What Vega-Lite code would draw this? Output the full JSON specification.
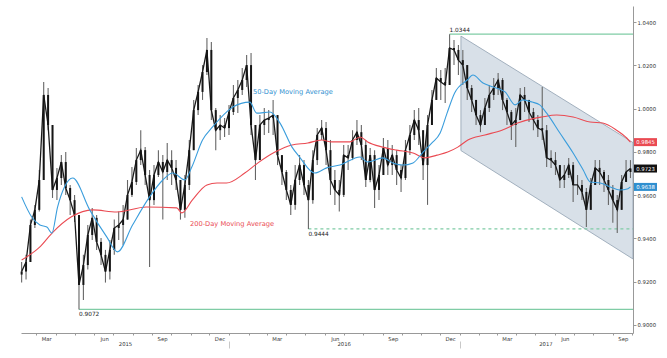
{
  "$schema": "https://vega.github.io/schema/vega-lite/v6.json",
  "width": 612,
  "height": 327,
  "autosize": {"type": "none"},
  "padding": {"left": 21, "top": 6, "right": 34, "bottom": 25},
  "background": "white",
  "config": {
    "view": {"stroke": null},
    "axis": {"labelFont": "DejaVu Sans", "labelFontSize": 5.3, "labelColor": "#333", "domainColor": "#999", "tickColor": "#999", "grid": false},
    "text": {"font": "DejaVu Sans"}
  },
  "datasets": {
    "px": [
      {"d":"2015-02-06","o":0.9233,"h":0.9291,"l":0.9196,"c":0.9247},
      {"d":"2015-02-13","o":0.9247,"h":0.9324,"l":0.9210,"c":0.9291},
      {"d":"2015-02-20","o":0.9291,"h":0.9487,"l":0.9291,"c":0.9462},
      {"d":"2015-02-27","o":0.9462,"h":0.9555,"l":0.9448,"c":0.9532},
      {"d":"2015-03-06","o":0.9532,"h":0.9716,"l":0.9524,"c":0.9670},
      {"d":"2015-03-13","o":0.9670,"h":1.0123,"l":0.9670,"c":1.0063},
      {"d":"2015-03-20","o":1.0063,"h":1.0095,"l":0.9900,"c":0.9924},
      {"d":"2015-03-27","o":0.9924,"h":0.9924,"l":0.9587,"c":0.9624},
      {"d":"2015-04-03","o":0.9624,"h":0.9726,"l":0.9577,"c":0.9679},
      {"d":"2015-04-10","o":0.9679,"h":0.9785,"l":0.9647,"c":0.9753},
      {"d":"2015-04-17","o":0.9753,"h":0.9799,"l":0.9601,"c":0.9633},
      {"d":"2015-04-24","o":0.9633,"h":0.9647,"l":0.9508,"c":0.9577},
      {"d":"2015-05-01","o":0.9577,"h":0.9601,"l":0.9476,"c":0.9508},
      {"d":"2015-05-08","o":0.9508,"h":0.9508,"l":0.9072,"c":0.9185},
      {"d":"2015-05-15","o":0.9185,"h":0.9324,"l":0.9116,"c":0.9277},
      {"d":"2015-05-22","o":0.9277,"h":0.9462,"l":0.9256,"c":0.9416},
      {"d":"2015-05-29","o":0.9416,"h":0.9541,"l":0.9393,"c":0.9495},
      {"d":"2015-06-05","o":0.9495,"h":0.9508,"l":0.9347,"c":0.9384},
      {"d":"2015-06-12","o":0.9384,"h":0.9402,"l":0.9277,"c":0.9324},
      {"d":"2015-06-19","o":0.9324,"h":0.9347,"l":0.9196,"c":0.9247},
      {"d":"2015-06-26","o":0.9247,"h":0.9393,"l":0.9210,"c":0.9347},
      {"d":"2015-07-03","o":0.9347,"h":0.9487,"l":0.9324,"c":0.9448},
      {"d":"2015-07-10","o":0.9448,"h":0.9524,"l":0.9393,"c":0.9462},
      {"d":"2015-07-17","o":0.9462,"h":0.9555,"l":0.9370,"c":0.9487},
      {"d":"2015-07-24","o":0.9487,"h":0.9670,"l":0.9487,"c":0.9601},
      {"d":"2015-07-31","o":0.9601,"h":0.9730,"l":0.9592,"c":0.9661},
      {"d":"2015-08-07","o":0.9661,"h":0.9818,"l":0.9647,"c":0.9762},
      {"d":"2015-08-14","o":0.9762,"h":0.9900,"l":0.9739,"c":0.9808},
      {"d":"2015-08-21","o":0.9808,"h":0.9822,"l":0.9647,"c":0.9693},
      {"d":"2015-08-28","o":0.9693,"h":0.9716,"l":0.9268,"c":0.9577},
      {"d":"2015-09-04","o":0.9577,"h":0.9739,"l":0.9555,"c":0.9693},
      {"d":"2015-09-11","o":0.9693,"h":0.9808,"l":0.9684,"c":0.9753},
      {"d":"2015-09-18","o":0.9753,"h":0.9785,"l":0.9487,"c":0.9707},
      {"d":"2015-09-25","o":0.9707,"h":0.9841,"l":0.9670,"c":0.9762},
      {"d":"2015-10-02","o":0.9762,"h":0.9808,"l":0.9647,"c":0.9726},
      {"d":"2015-10-09","o":0.9726,"h":0.9762,"l":0.9624,"c":0.9670},
      {"d":"2015-10-16","o":0.9670,"h":0.9670,"l":0.9487,"c":0.9532},
      {"d":"2015-10-23","o":0.9532,"h":0.9693,"l":0.9495,"c":0.9647},
      {"d":"2015-10-30","o":0.9647,"h":0.9855,"l":0.9624,"c":0.9808},
      {"d":"2015-11-06","o":0.9808,"h":1.0040,"l":0.9808,"c":0.9993},
      {"d":"2015-11-13","o":0.9993,"h":1.0109,"l":0.9970,"c":1.0077},
      {"d":"2015-11-20","o":1.0077,"h":1.0201,"l":1.0040,"c":1.0169},
      {"d":"2015-11-27","o":1.0169,"h":1.0326,"l":1.0155,"c":1.0271},
      {"d":"2015-12-04","o":1.0271,"h":1.0308,"l":0.9947,"c":0.9993},
      {"d":"2015-12-11","o":0.9993,"h":1.0003,"l":0.9808,"c":0.9900},
      {"d":"2015-12-18","o":0.9900,"h":0.9970,"l":0.9855,"c":0.9924},
      {"d":"2015-12-25","o":0.9924,"h":0.9956,"l":0.9869,"c":0.9910},
      {"d":"2016-01-01","o":0.9910,"h":1.0017,"l":0.9878,"c":0.9984},
      {"d":"2016-01-08","o":0.9984,"h":1.0109,"l":0.9970,"c":1.0049},
      {"d":"2016-01-15","o":1.0049,"h":1.0132,"l":0.9979,"c":1.0086},
      {"d":"2016-01-22","o":1.0086,"h":1.0187,"l":1.0063,"c":1.0132},
      {"d":"2016-01-29","o":1.0132,"h":1.0248,"l":1.0100,"c":1.0201},
      {"d":"2016-02-05","o":1.0201,"h":1.0257,"l":0.9878,"c":0.9924},
      {"d":"2016-02-12","o":0.9924,"h":0.9924,"l":0.9670,"c":0.9762},
      {"d":"2016-02-19","o":0.9762,"h":0.9970,"l":0.9762,"c":0.9924},
      {"d":"2016-02-26","o":0.9924,"h":1.0003,"l":0.9878,"c":0.9947},
      {"d":"2016-03-04","o":0.9947,"h":0.9993,"l":0.9887,"c":0.9956},
      {"d":"2016-03-11","o":0.9956,"h":1.0040,"l":0.9878,"c":0.9970},
      {"d":"2016-03-18","o":0.9970,"h":0.9970,"l":0.9739,"c":0.9785},
      {"d":"2016-03-25","o":0.9785,"h":0.9785,"l":0.9647,"c":0.9707},
      {"d":"2016-04-01","o":0.9707,"h":0.9716,"l":0.9577,"c":0.9624},
      {"d":"2016-04-08","o":0.9624,"h":0.9647,"l":0.9508,"c":0.9555},
      {"d":"2016-04-15","o":0.9555,"h":0.9739,"l":0.9532,"c":0.9670},
      {"d":"2016-04-22","o":0.9670,"h":0.9785,"l":0.9647,"c":0.9739},
      {"d":"2016-04-29","o":0.9739,"h":0.9762,"l":0.9601,"c":0.9647},
      {"d":"2016-05-06","o":0.9647,"h":0.9670,"l":0.9444,"c":0.9577},
      {"d":"2016-05-13","o":0.9577,"h":0.9808,"l":0.9560,"c":0.9762},
      {"d":"2016-05-20","o":0.9762,"h":0.9910,"l":0.9739,"c":0.9878},
      {"d":"2016-05-27","o":0.9878,"h":0.9947,"l":0.9855,"c":0.9910},
      {"d":"2016-06-03","o":0.9910,"h":0.9938,"l":0.9739,"c":0.9808},
      {"d":"2016-06-10","o":0.9808,"h":0.9855,"l":0.9601,"c":0.9670},
      {"d":"2016-06-17","o":0.9670,"h":0.9716,"l":0.9555,"c":0.9624},
      {"d":"2016-06-24","o":0.9624,"h":0.9670,"l":0.9524,"c":0.9601},
      {"d":"2016-07-01","o":0.9601,"h":0.9832,"l":0.9592,"c":0.9785},
      {"d":"2016-07-08","o":0.9785,"h":0.9832,"l":0.9716,"c":0.9772},
      {"d":"2016-07-15","o":0.9772,"h":0.9900,"l":0.9762,"c":0.9855},
      {"d":"2016-07-22","o":0.9855,"h":0.9947,"l":0.9832,"c":0.9891},
      {"d":"2016-07-29","o":0.9891,"h":0.9924,"l":0.9762,"c":0.9832},
      {"d":"2016-08-05","o":0.9832,"h":0.9855,"l":0.9638,"c":0.9670},
      {"d":"2016-08-12","o":0.9670,"h":0.9818,"l":0.9660,"c":0.9785},
      {"d":"2016-08-19","o":0.9785,"h":0.9808,"l":0.9541,"c":0.9624},
      {"d":"2016-08-26","o":0.9624,"h":0.9739,"l":0.9577,"c":0.9693},
      {"d":"2016-09-02","o":0.9693,"h":0.9864,"l":0.9693,"c":0.9818},
      {"d":"2016-09-09","o":0.9818,"h":0.9855,"l":0.9693,"c":0.9739},
      {"d":"2016-09-16","o":0.9739,"h":0.9832,"l":0.9693,"c":0.9785},
      {"d":"2016-09-23","o":0.9785,"h":0.9808,"l":0.9647,"c":0.9716},
      {"d":"2016-09-30","o":0.9716,"h":0.9739,"l":0.9615,"c":0.9679},
      {"d":"2016-10-07","o":0.9679,"h":0.9855,"l":0.9670,"c":0.9808},
      {"d":"2016-10-14","o":0.9808,"h":0.9924,"l":0.9785,"c":0.9878},
      {"d":"2016-10-21","o":0.9878,"h":0.9993,"l":0.9855,"c":0.9947},
      {"d":"2016-10-28","o":0.9947,"h":1.0003,"l":0.9832,"c":0.9900},
      {"d":"2016-11-04","o":0.9900,"h":0.9900,"l":0.9670,"c":0.9739},
      {"d":"2016-11-11","o":0.9739,"h":0.9970,"l":0.9555,"c":0.9924},
      {"d":"2016-11-18","o":0.9924,"h":1.0086,"l":0.9924,"c":1.0040},
      {"d":"2016-11-25","o":1.0040,"h":1.0187,"l":1.0040,"c":1.0141},
      {"d":"2016-12-02","o":1.0141,"h":1.0178,"l":1.0040,"c":1.0123},
      {"d":"2016-12-09","o":1.0123,"h":1.0187,"l":1.0026,"c":1.0109},
      {"d":"2016-12-16","o":1.0109,"h":1.0344,"l":1.0109,"c":1.0280},
      {"d":"2016-12-23","o":1.0280,"h":1.0317,"l":1.0201,"c":1.0271},
      {"d":"2016-12-30","o":1.0271,"h":1.0294,"l":1.0155,"c":1.0224},
      {"d":"2017-01-06","o":1.0224,"h":1.0271,"l":1.0109,"c":1.0201},
      {"d":"2017-01-13","o":1.0201,"h":1.0201,"l":1.0040,"c":1.0095},
      {"d":"2017-01-20","o":1.0095,"h":1.0109,"l":0.9984,"c":1.0040},
      {"d":"2017-01-27","o":1.0040,"h":1.0040,"l":0.9924,"c":0.9970},
      {"d":"2017-02-03","o":0.9970,"h":0.9993,"l":0.9891,"c":0.9924},
      {"d":"2017-02-10","o":0.9924,"h":1.0049,"l":0.9924,"c":1.0003},
      {"d":"2017-02-17","o":1.0003,"h":1.0109,"l":0.9984,"c":1.0063},
      {"d":"2017-02-24","o":1.0063,"h":1.0141,"l":1.0040,"c":1.0095},
      {"d":"2017-03-03","o":1.0095,"h":1.0164,"l":1.0063,"c":1.0132},
      {"d":"2017-03-10","o":1.0132,"h":1.0141,"l":0.9993,"c":1.0040},
      {"d":"2017-03-17","o":1.0040,"h":1.0049,"l":0.9924,"c":0.9984},
      {"d":"2017-03-24","o":0.9984,"h":0.9993,"l":0.9855,"c":0.9924},
      {"d":"2017-03-31","o":0.9924,"h":1.0003,"l":0.9822,"c":0.9947},
      {"d":"2017-04-07","o":0.9947,"h":1.0095,"l":0.9947,"c":1.0063},
      {"d":"2017-04-14","o":1.0063,"h":1.0100,"l":0.9984,"c":1.0040},
      {"d":"2017-04-21","o":1.0040,"h":1.0040,"l":0.9938,"c":0.9984},
      {"d":"2017-04-28","o":0.9984,"h":1.0003,"l":0.9900,"c":0.9947},
      {"d":"2017-05-05","o":0.9947,"h":0.9970,"l":0.9869,"c":0.9910},
      {"d":"2017-05-12","o":0.9910,"h":1.0100,"l":0.9855,"c":0.9900},
      {"d":"2017-05-19","o":0.9900,"h":0.9924,"l":0.9730,"c":0.9772},
      {"d":"2017-05-26","o":0.9772,"h":0.9808,"l":0.9726,"c":0.9762},
      {"d":"2017-06-02","o":0.9762,"h":0.9799,"l":0.9693,"c":0.9739},
      {"d":"2017-06-09","o":0.9739,"h":0.9739,"l":0.9633,"c":0.9670},
      {"d":"2017-06-16","o":0.9670,"h":0.9739,"l":0.9633,"c":0.9693},
      {"d":"2017-06-23","o":0.9693,"h":0.9772,"l":0.9679,"c":0.9739},
      {"d":"2017-06-30","o":0.9739,"h":0.9753,"l":0.9568,"c":0.9647},
      {"d":"2017-07-07","o":0.9647,"h":0.9693,"l":0.9601,"c":0.9647},
      {"d":"2017-07-14","o":0.9647,"h":0.9670,"l":0.9577,"c":0.9615},
      {"d":"2017-07-21","o":0.9615,"h":0.9633,"l":0.9453,"c":0.9532},
      {"d":"2017-07-28","o":0.9532,"h":0.9679,"l":0.9532,"c":0.9647},
      {"d":"2017-08-04","o":0.9647,"h":0.9762,"l":0.9647,"c":0.9726},
      {"d":"2017-08-11","o":0.9726,"h":0.9762,"l":0.9647,"c":0.9707},
      {"d":"2017-08-18","o":0.9707,"h":0.9716,"l":0.9615,"c":0.9670},
      {"d":"2017-08-25","o":0.9670,"h":0.9693,"l":0.9555,"c":0.9624},
      {"d":"2017-09-01","o":0.9624,"h":0.9647,"l":0.9472,"c":0.9577},
      {"d":"2017-09-08","o":0.9577,"h":0.9601,"l":0.9425,"c":0.9532},
      {"d":"2017-09-15","o":0.9532,"h":0.9693,"l":0.9532,"c":0.9661},
      {"d":"2017-09-22","o":0.9661,"h":0.9762,"l":0.9661,"c":0.9707},
      {"d":"2017-09-29","o":0.9707,"h":0.9762,"l":0.9679,"c":0.9723}
    ],
    "ma50": [
      {"d":"2015-02-06","v":0.9592},{"d":"2015-02-22","v":0.9499},{"d":"2015-03-07","v":0.9462},
      {"d":"2015-03-18","v":0.9453},{"d":"2015-03-26","v":0.9425},{"d":"2015-04-04","v":0.9545},
      {"d":"2015-04-15","v":0.9638},{"d":"2015-04-28","v":0.9679},{"d":"2015-05-25","v":0.9532},
      {"d":"2015-06-21","v":0.9407},{"d":"2015-07-08","v":0.9338},{"d":"2015-08-01","v":0.9462},
      {"d":"2015-08-28","v":0.9592},{"d":"2015-09-18","v":0.9670},{"d":"2015-10-04","v":0.9702},
      {"d":"2015-10-23","v":0.9670},{"d":"2015-11-03","v":0.9730},{"d":"2015-11-20","v":0.9855},
      {"d":"2015-12-06","v":0.9915},{"d":"2015-12-28","v":0.9984},{"d":"2016-01-07","v":1.0007},
      {"d":"2016-02-03","v":1.0030},{"d":"2016-02-14","v":0.9979},{"d":"2016-03-06","v":0.9984},
      {"d":"2016-03-22","v":0.9933},{"d":"2016-04-10","v":0.9822},{"d":"2016-04-22","v":0.9776},
      {"d":"2016-05-16","v":0.9702},{"d":"2016-06-04","v":0.9726},{"d":"2016-06-25","v":0.9739},
      {"d":"2016-07-27","v":0.9776},{"d":"2016-08-08","v":0.9753},{"d":"2016-09-01","v":0.9772},
      {"d":"2016-09-17","v":0.9749},{"d":"2016-10-03","v":0.9739},{"d":"2016-10-19","v":0.9749},
      {"d":"2016-11-04","v":0.9799},{"d":"2016-11-18","v":0.9841},{"d":"2016-12-01","v":0.9887},
      {"d":"2016-12-12","v":0.9979},{"d":"2016-12-24","v":1.0072},{"d":"2017-01-13","v":1.0132},
      {"d":"2017-01-22","v":1.0155},{"d":"2017-02-07","v":1.0118},{"d":"2017-02-23","v":1.0100},
      {"d":"2017-03-14","v":1.0077},{"d":"2017-03-30","v":1.0017},{"d":"2017-04-11","v":1.0040},
      {"d":"2017-04-26","v":1.0030},{"d":"2017-05-08","v":1.0017},{"d":"2017-05-19","v":0.9979},
      {"d":"2017-06-09","v":0.9887},{"d":"2017-06-30","v":0.9795},{"d":"2017-07-16","v":0.9716},
      {"d":"2017-07-27","v":0.9661},{"d":"2017-08-12","v":0.9656},{"d":"2017-08-28","v":0.9638},
      {"d":"2017-09-12","v":0.9624},{"d":"2017-09-25","v":0.9630},{"d":"2017-09-29","v":0.9638}
    ],
    "ma200": [
      {"d":"2015-02-06","v":0.9300},{"d":"2015-03-07","v":0.9361},{"d":"2015-03-27","v":0.9427},
      {"d":"2015-04-26","v":0.9500},{"d":"2015-05-30","v":0.9532},{"d":"2015-07-07","v":0.9522},
      {"d":"2015-08-23","v":0.9545},{"d":"2015-10-10","v":0.9541},{"d":"2015-10-18","v":0.9518},
      {"d":"2015-11-04","v":0.9578},{"d":"2015-11-27","v":0.9647},{"d":"2015-12-13","v":0.9656},
      {"d":"2015-12-28","v":0.9656},{"d":"2016-01-26","v":0.9702},{"d":"2016-02-16","v":0.9749},
      {"d":"2016-03-14","v":0.9799},{"d":"2016-04-10","v":0.9832},{"d":"2016-05-05","v":0.9841},
      {"d":"2016-05-27","v":0.9855},{"d":"2016-06-12","v":0.9846},{"d":"2016-07-11","v":0.9846},
      {"d":"2016-07-27","v":0.9869},{"d":"2016-08-08","v":0.9846},{"d":"2016-09-01","v":0.9822},
      {"d":"2016-09-23","v":0.9808},{"d":"2016-10-19","v":0.9795},{"d":"2016-11-07","v":0.9772},
      {"d":"2016-11-26","v":0.9785},{"d":"2016-12-13","v":0.9799},{"d":"2016-12-29","v":0.9822},
      {"d":"2017-01-14","v":0.9855},{"d":"2017-02-10","v":0.9878},{"d":"2017-03-09","v":0.9900},
      {"d":"2017-04-03","v":0.9933},{"d":"2017-05-01","v":0.9956},{"d":"2017-05-11","v":0.9961},
      {"d":"2017-06-04","v":0.9970},{"d":"2017-06-30","v":0.9961},{"d":"2017-07-27","v":0.9938},
      {"d":"2017-08-16","v":0.9933},{"d":"2017-09-07","v":0.9900},{"d":"2017-09-23","v":0.9864},
      {"d":"2017-09-29","v":0.9845}
    ],
    "channel": [
      {"d":"2017-01-03","hi":1.0335,"lo":0.9806},
      {"d":"2017-10-03","hi":0.9843,"lo":0.9305}
    ],
    "solidLevels": [
      {"s":"2016-12-16","v":1.0344},
      {"s":"2015-05-08","v":0.9072}
    ],
    "dashLevels": [
      {"s":"2016-05-06","v":0.9444}
    ],
    "labAbove": [
      {"s":"2016-12-16","v":1.0344,"t":"1.0344"}
    ],
    "labBelow": [
      {"s":"2015-05-08","v":0.9072,"t":"0.9072"},
      {"s":"2016-05-06","v":0.9444,"t":"0.9444"}
    ],
    "maLabels": [
      {"d":"2016-02-08","v":1.0077,"t":"50-Day Moving Average","s":"50"},
      {"d":"2015-10-31","v":0.9467,"t":"200-Day Moving Average","s":"200"}
    ],
    "tags": [
      {"v":0.9845,"t":"0.9845","s":"200"},
      {"v":0.9723,"t":"0.9723","s":"px"},
      {"v":0.9638,"t":"0.9638","s":"50"}
    ]
  },
  "resolve": {"scale": {"x": "shared", "y": "shared"}, "axis": {"x": "independent"}},
  "layer": [
    {
      "data": {"name": "channel"},
      "mark": {"type": "area", "fill": "#d8e0e8", "stroke": "#8f9fb0", "strokeWidth": 0.8},
      "encoding": {
        "x": {"field": "d", "type": "temporal", "title": null,
          "scale": {"domain": [{"year": 2015, "month": 2, "date": 5}, {"year": 2017, "month": 10, "date": 3}]},
          "axis": {"orient": "bottom", "tickCount": {"interval": "month", "step": 1},
            "labelExpr": "month(datum.value) % 3 == 2 ? timeFormat(datum.value, '%b') : ''",
            "tickSize": 2, "labelPadding": 1, "labelOffset": 10, "labelOverlap": false, "labelFlush": false}},
        "y": {"field": "hi", "type": "quantitative", "title": null,
          "scale": {"domain": [0.8963, 1.0474], "nice": false, "zero": false},
          "axis": {"orient": "right", "values": [0.9, 0.92, 0.94, 0.96, 0.98, 1.0, 1.02, 1.04], "format": ".4f", "tickSize": 3, "labelPadding": 1}},
        "y2": {"field": "lo"}
      }
    },
    {
      "data": {"name": "solidLevels"},
      "mark": {"type": "rule", "color": "#7fcca5", "strokeWidth": 1.4},
      "encoding": {
        "x": {"field": "s", "type": "temporal", "title": null,
          "axis": {"orient": "bottom", "offset": 8, "values": [{"year": 2015, "month": 7, "date": 20}, {"year": 2016, "month": 7, "date": 1}, {"year": 2017, "month": 5, "date": 17}],
            "format": "%Y", "ticks": false, "domain": false, "labelPadding": 0}},
        "x2": {"datum": {"year": 2017, "month": 10, "date": 3}},
        "y": {"field": "v", "type": "quantitative", "title": null}
      }
    },
    {
      "data": {"name": "dashLevels"},
      "mark": {"type": "rule", "color": "#7fcca5", "strokeWidth": 1.4, "strokeDash": [3, 3]},
      "encoding": {
        "x": {"field": "s", "type": "temporal", "title": null,
          "axis": {"orient": "bottom", "offset": 8, "values": [{"year": 2016, "month": 1, "date": 1}, {"year": 2017, "month": 1, "date": 1}],
            "labels": false, "domain": false, "tickSize": 7, "tickColor": "#c8c8c8"}},
        "x2": {"datum": {"year": 2017, "month": 10, "date": 3}},
        "y": {"field": "v", "type": "quantitative", "title": null}
      }
    },
    {
      "data": {"name": "px"},
      "mark": {"type": "rule", "color": "#666666", "strokeWidth": 1.1},
      "encoding": {
        "x": {"field": "d", "type": "temporal", "title": null, "axis": null},
        "y": {"field": "l", "type": "quantitative", "title": null},
        "y2": {"field": "h"}
      }
    },
    {
      "data": {"name": "px"},
      "mark": {"type": "line", "color": "#1a1a1a", "strokeWidth": 1.3},
      "encoding": {
        "x": {"field": "d", "type": "temporal", "title": null, "axis": null},
        "y": {"field": "c", "type": "quantitative", "title": null}
      }
    },
    {
      "data": {"name": "px"},
      "mark": {"type": "rule", "color": "#151515", "strokeWidth": 2},
      "encoding": {
        "x": {"field": "d", "type": "temporal", "title": null, "axis": null},
        "y": {"field": "o", "type": "quantitative", "title": null},
        "y2": {"field": "c"}
      }
    },
    {
      "data": {"name": "ma200"},
      "mark": {"type": "line", "color": "#ea4a52", "strokeWidth": 1.1, "interpolate": "monotone"},
      "encoding": {
        "x": {"field": "d", "type": "temporal", "title": null, "axis": null},
        "y": {"field": "v", "type": "quantitative", "title": null}
      }
    },
    {
      "data": {"name": "ma50"},
      "mark": {"type": "line", "color": "#3a9ddc", "strokeWidth": 1.1, "interpolate": "monotone"},
      "encoding": {
        "x": {"field": "d", "type": "temporal", "title": null, "axis": null},
        "y": {"field": "v", "type": "quantitative", "title": null}
      }
    },
    {
      "data": {"name": "labAbove"},
      "mark": {"type": "text", "align": "left", "baseline": "alphabetic", "dy": -2, "fontSize": 5.8, "color": "#222"},
      "encoding": {
        "x": {"field": "s", "type": "temporal", "title": null, "axis": null},
        "y": {"field": "v", "type": "quantitative", "title": null},
        "text": {"field": "t"}
      }
    },
    {
      "data": {"name": "labBelow"},
      "mark": {"type": "text", "align": "left", "baseline": "top", "dy": 2, "fontSize": 5.8, "color": "#222"},
      "encoding": {
        "x": {"field": "s", "type": "temporal", "title": null, "axis": null},
        "y": {"field": "v", "type": "quantitative", "title": null},
        "text": {"field": "t"}
      }
    },
    {
      "data": {"name": "maLabels"},
      "mark": {"type": "text", "align": "left", "baseline": "middle", "fontSize": 6.7},
      "encoding": {
        "x": {"field": "d", "type": "temporal", "title": null, "axis": null},
        "y": {"field": "v", "type": "quantitative", "title": null},
        "text": {"field": "t"},
        "color": {"field": "s", "type": "nominal", "legend": null,
          "scale": {"domain": ["200", "px", "50"], "range": ["#ea4a52", "#111111", "#2f8fd0"]}}
      }
    },
    {
      "data": {"name": "tags"},
      "mark": {"type": "rect", "xOffset": 1, "x2Offset": 24, "yOffset": -4, "y2Offset": 4, "clip": false},
      "encoding": {
        "x": {"datum": {"year": 2017, "month": 10, "date": 3}, "type": "temporal", "axis": null},
        "x2": {"datum": {"year": 2017, "month": 10, "date": 3}},
        "y": {"field": "v", "type": "quantitative", "title": null},
        "y2": {"field": "v"},
        "color": {"field": "s", "type": "nominal", "legend": null}
      }
    },
    {
      "data": {"name": "tags"},
      "mark": {"type": "text", "align": "center", "baseline": "middle", "dx": 12.5, "fontSize": 5.3, "color": "white"},
      "encoding": {
        "x": {"datum": {"year": 2017, "month": 10, "date": 3}, "type": "temporal", "axis": null},
        "y": {"field": "v", "type": "quantitative", "title": null},
        "text": {"field": "t"}
      }
    }
  ]
}
